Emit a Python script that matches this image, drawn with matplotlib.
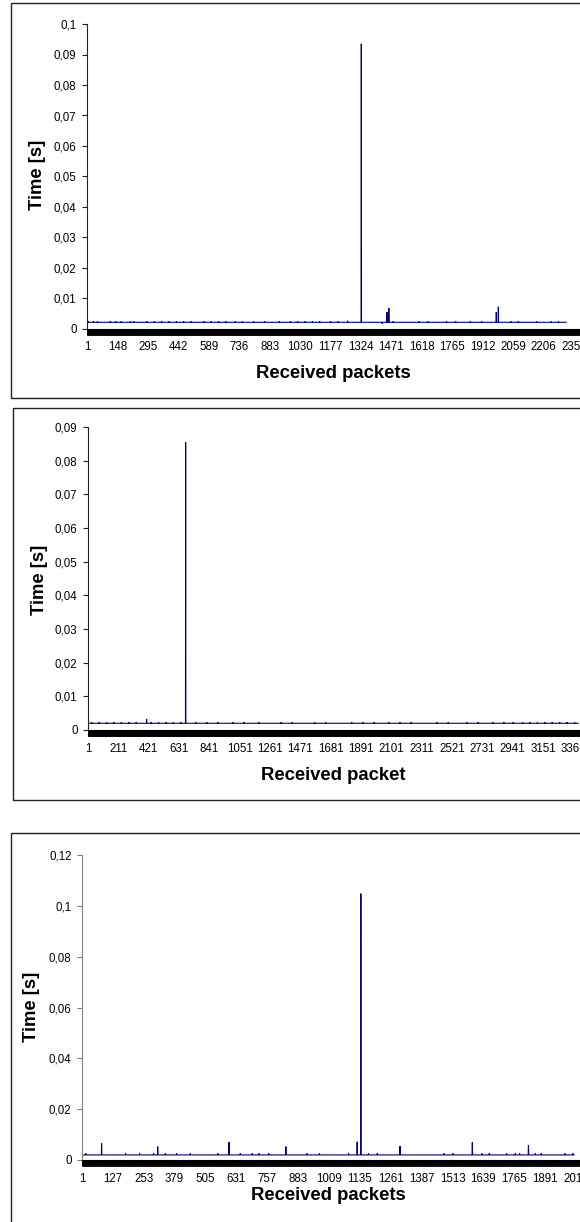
import numpy as np
import matplotlib
matplotlib.use("Agg")
import matplotlib.pyplot as plt
from matplotlib.patches import Rectangle
from matplotlib.ticker import FixedLocator

plt.rcParams['font.family'] = ['Liberation Sans', 'DejaVu Sans']

W, H = 580, 1222

# ---- panel 1 data ----
n1_data = 2315
base1 = 0.0022
start1 = [0.0026, 0.0026, 0.0025, 0.0025]
bumps1 = [6, 33, 51, 113, 140, 166, 211, 228, 290, 326, 362, 397, 433, 468, 504,
          566, 601, 637, 672, 717, 752, 805, 859, 930, 983, 1019, 1054, 1090, 1125,
          1178, 1214, 1480, 1605, 1649, 1738, 1782, 1853, 1907, 2049, 2084, 2173,
          2244, 2279]
bump1_val = 0.0025
spike1_pos = [1260, 1326, 1427, 1450, 1459, 1978, 1988]
spike1_val = [0.0027, 0.0935, 0.0017, 0.0055, 0.0069, 0.0055, 0.0073]

# ---- panel 2 data ----
n2_data = 3395
base2 = 0.0020
bumps2 = [27, 78, 130, 181, 232, 284, 335, 438, 490, 541, 592, 644, 747, 824, 901,
          1004, 1081, 1184, 1338, 1415, 1570, 1647, 1827, 1904, 1981, 2084, 2161,
          2238, 2418, 2495, 2624, 2701, 2804, 2881, 2945, 3010, 3061, 3113, 3164,
          3215, 3267, 3318, 3370]
bump2_val = 0.0023
spike2_pos = [407, 677]
spike2_val = [0.0033, 0.0855]

# ---- panel 3 data ----
n3_data = 2009
base3 = 0.0020
bumps3 = [17, 179, 236, 293, 341, 387, 443, 555, 647, 696, 723, 763, 919, 970, 1089,
          1170, 1206, 1478, 1515, 1633, 1663, 1734, 1769, 1787, 1851, 1875, 1972, 2004]
bump3_val = 0.0026
spike3_pos = [81, 310, 601, 833, 1124, 1139, 1299, 1594, 1823]
spike3_val = [0.0066, 0.0053, 0.0070, 0.0053, 0.0072, 0.1048, 0.0055, 0.0070, 0.0059]

# axis settings per panel
yticks1 = [0, 0.01, 0.02, 0.03, 0.04, 0.05, 0.06, 0.07, 0.08, 0.09, 0.1]
ylabels1 = ['0', '0,01', '0,02', '0,03', '0,04', '0,05', '0,06', '0,07', '0,08', '0,09', '0,1']
yticks2 = [0, 0.01, 0.02, 0.03, 0.04, 0.05, 0.06, 0.07, 0.08, 0.09]
ylabels2 = ['0', '0,01', '0,02', '0,03', '0,04', '0,05', '0,06', '0,07', '0,08', '0,09']
yticks3 = [0, 0.02, 0.04, 0.06, 0.08, 0.1, 0.12]
ylabels3 = ['0', '0,02', '0,04', '0,06', '0,08', '0,1', '0,12']


def build_series(n, base, bumps, bump_val, spike_pos, spike_val, start=None):
    y = np.full(n, base)
    for b in bumps:
        y[b - 1] = bump_val
    if start is not None:
        y[:len(start)] = start
    for p, v in zip(spike_pos, spike_val):
        y[p - 1] = v
    return y


fig = plt.figure(figsize=(W / 100, H / 100), dpi=100)


def px_axes(left, top, bottom, right=600):
    return fig.add_axes([left / W, 1 - bottom / H, (right - left) / W, (bottom - top) / H])


def box(left, top, bottom, right=620):
    fig.patches.append(Rectangle((left / W, 1 - bottom / H), (right - left) / W,
                                 (bottom - top) / H, transform=fig.transFigure,
                                 fill=False, edgecolor='#222222', linewidth=1.0))


def panel(ax, y, ymax, yt, yl, step, px_per_cat, axis_color):
    x = np.arange(1, len(y) + 1)
    ax.plot(x, y, color='#000080', linewidth=0.8, solid_joinstyle='miter')
    width_px = ax.get_position().width * W
    xmax = int(1 + width_px / px_per_cat)
    ax.set_xlim(1, xmax)
    ax.set_ylim(0, ymax)
    ax.set_yticks(yt)
    ax.set_yticklabels(yl)
    major = list(range(1, xmax, step))
    ax.xaxis.set_major_locator(FixedLocator(major))
    ax.set_xticklabels([str(v) for v in major])
    ax.xaxis.set_minor_locator(FixedLocator(list(range(1, xmax + 1))))
    ax.tick_params(axis='x', which='both', length=4, width=0.6, color='black',
                   direction='out', pad=5, labelsize=8.3)
    ax.tick_params(axis='y', length=3.5, width=0.8, color=axis_color, pad=4, labelsize=8.3)
    for s in ['top', 'right']:
        ax.spines[s].set_visible(False)
    ax.spines['left'].set_color(axis_color)
    ax.spines['bottom'].set_color('black')
    ax.patch.set_alpha(0)


y1 = build_series(n1_data, base1, bumps1, bump1_val, spike1_pos, spike1_val, start1)
y2 = build_series(n2_data, base2, bumps2, bump2_val, spike2_pos, spike2_val)
y3 = build_series(n3_data, base3, bumps3, bump3_val, spike3_pos, spike3_val)

box(11, 3, 398)
box(13, 408, 800)
box(11, 833, 1240)

ax1 = px_axes(87, 24, 329)
panel(ax1, y1, 0.1, yticks1, ylabels1, 147, 0.207, '#222222')
ax2 = px_axes(88, 427, 730)
panel(ax2, y2, 0.09, yticks2, ylabels2, 210, 0.1444, '#222222')
ax3 = px_axes(82, 855, 1160)
panel(ax3, y3, 0.12, yticks3, ylabels3, 126, 0.245, '#808080')

label_kw = dict(fontsize=13.3, fontweight='bold', ha='center', va='center')
fig.text(333 / W, 1 - 373 / H, 'Received packets', **label_kw)
fig.text(333 / W, 1 - 775 / H, 'Received packet', **label_kw)
fig.text(328 / W, 1 - 1196 / H, 'Received packets', **label_kw)
fig.text(37 / W, 1 - 175 / H, 'Time [s]', rotation=90, **label_kw)
fig.text(39 / W, 1 - 580 / H, 'Time [s]', rotation=90, **label_kw)
fig.text(31 / W, 1 - 1007 / H, 'Time [s]', rotation=90, **label_kw)

fig.savefig('out.png', dpi=100)
